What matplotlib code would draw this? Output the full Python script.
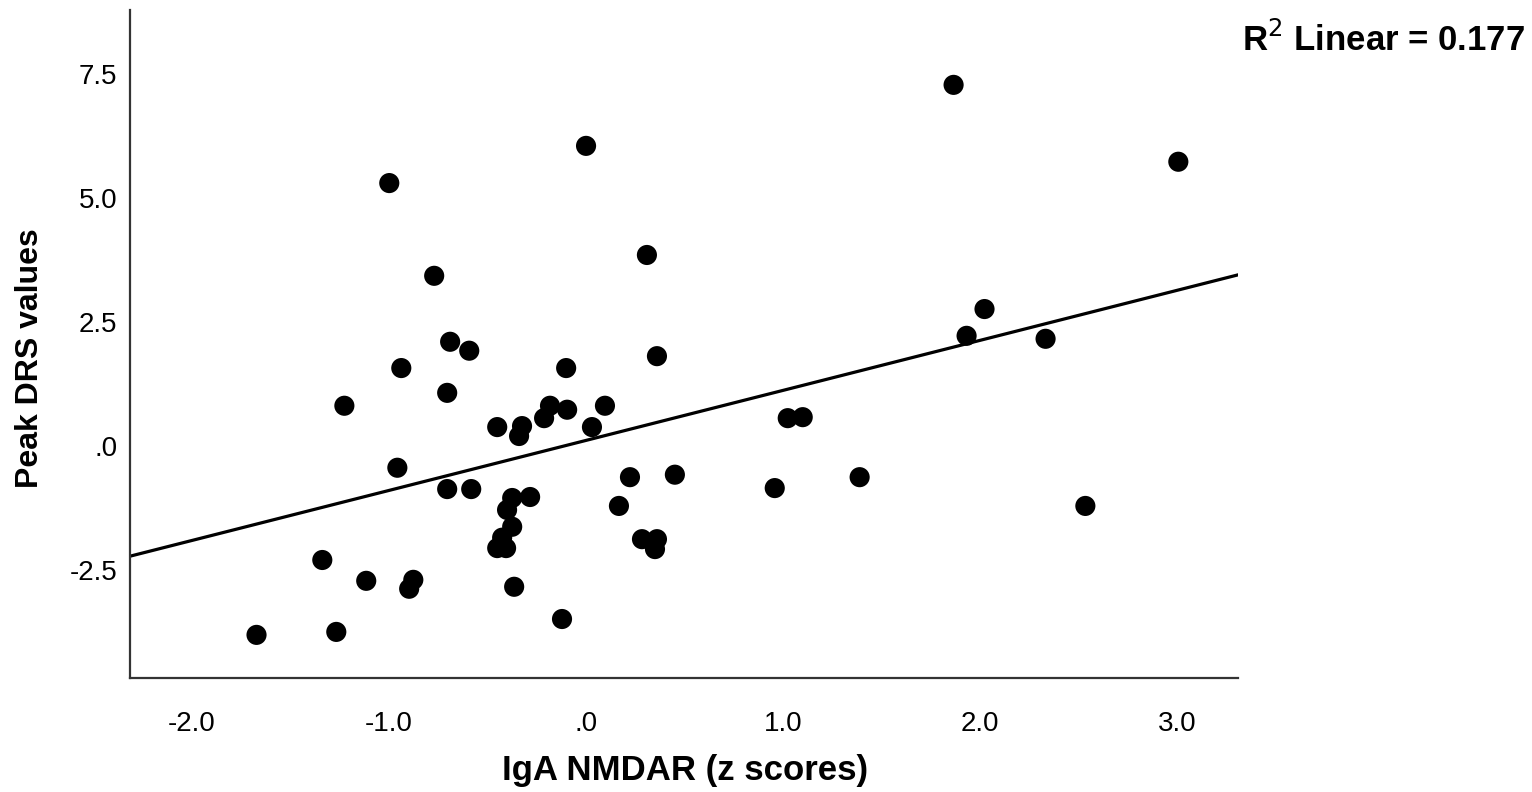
import numpy as np
import matplotlib

matplotlib.use("Agg")
import matplotlib.pyplot as plt

# IgA NMDAR z scores vs peak DRS values
iga_z = [
    -1.673, -1.339, -1.268, -1.227, -1.116, -0.999, -0.958, -0.938, -0.898, -0.877,
    -0.771, -0.705, -0.705, -0.690, -0.593, -0.583, -0.451, -0.451, -0.406, -0.426,
    -0.401, -0.375, -0.375, -0.365, -0.340, -0.325, -0.284, -0.213, -0.183, -0.096,
    -0.122, -0.101, 0.000, 0.030, 0.096, 0.167, 0.223, 0.284, 0.309, 0.360,
    0.350, 0.360, 0.451, 0.958, 1.024, 1.100, 1.389, 1.866, 1.932, 2.023,
    2.333, 2.535, 3.007,
]
drs_peak = [
    -3.81, -2.30, -3.75, 0.81, -2.72, 5.30, -0.44, 1.57, -2.88, -2.70,
    3.43, 1.07, -0.87, 2.10, 1.92, -0.87, 0.38, -2.06, -2.06, -1.85,
    -1.29, -1.63, -1.05, -2.84, 0.20, 0.40, -1.03, 0.56, 0.81, 0.73,
    -3.49, 1.57, 6.05, 0.38, 0.81, -1.21, -0.63, -1.88, 3.85, -1.88,
    -2.08, 1.81, -0.58, -0.85, 0.56, 0.58, -0.63, 7.28, 2.22, 2.76,
    2.16, -1.21, 5.73,
]
x_ticks = [-2.0, -1.0, 0.0, 1.0, 2.0, 3.0]
x_tick_labels = ["-2.0", "-1.0", ".0", "1.0", "2.0", "3.0"]
y_ticks = [-2.5, 0.0, 2.5, 5.0, 7.5]
y_tick_labels = ["-2.5", ".0", "2.5", "5.0", "7.5"]

plt.rcParams["font.family"] = ["Liberation Sans", "DejaVu Sans"]

fig = plt.figure(figsize=(15.32, 7.92), dpi=100, facecolor="white")
ax = fig.add_axes([0.0849, 0.1439, 0.7232, 0.8435])

xlim = (-2.315, 3.31)
ylim = (-4.68, 8.79)

ax.scatter(iga_z, drs_peak, s=210, color="black", edgecolors="none", zorder=3)

# linear fit line
slope, intercept = np.polyfit(iga_z, drs_peak, 1)
xs = np.array(xlim)
ax.plot(xs, slope * xs + intercept, color="black", lw=2.3, zorder=2)

ax.set_xlim(*xlim)
ax.set_ylim(*ylim)
ax.set_xticks(x_ticks)
ax.set_xticklabels(x_tick_labels)
ax.set_yticks(y_ticks)
ax.set_yticklabels(y_tick_labels)
ax.tick_params(axis="both", length=0, labelsize=20, colors="black")
ax.tick_params(axis="x", pad=24)
ax.tick_params(axis="y", pad=9)

for side in ["top", "right"]:
    ax.spines[side].set_visible(False)
for side in ["left", "bottom"]:
    ax.spines[side].set_linewidth(1.6)
    ax.spines[side].set_color("#333333")

ax.set_xlabel("IgA NMDAR (z scores)", fontsize=25, fontweight="bold", va="center")
ax.xaxis.set_label_coords(0.5005, -0.1377)
ax.set_ylabel("Peak DRS values", fontsize=23, fontweight="bold", va="center")
ax.yaxis.set_label_coords(-0.0903, 0.479)

fig.text(0.9955, 0.949, r"R$^2$ Linear = 0.177", ha="right", va="center",
         fontsize=25, fontweight="bold")

fig.savefig("out.png", dpi=100, facecolor="white")
